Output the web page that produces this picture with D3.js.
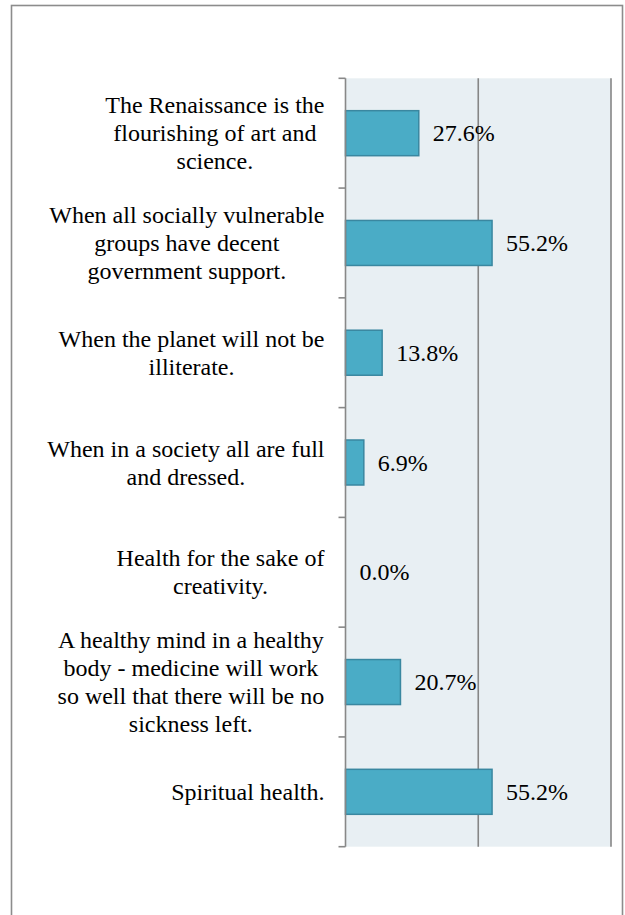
<!DOCTYPE html>
<html>
<head>
<meta charset="utf-8">
<script src="https://cdn.jsdelivr.net/npm/d3@7"></script>
</head>
<body style="margin:0">
<svg id="chart" width="625" height="915"></svg>
<script>
// answers, top to bottom (each entry is the lines of the label)
const categories = [
  ["The Renaissance is the", "flourishing of art and", "science."],
  ["When all socially vulnerable", "groups have decent", "government support."],
  ["When the planet will not be", "illiterate."],
  ["When in a society all are full", "and dressed."],
  ["Health for the sake of", "creativity."],
  ["A healthy mind in a healthy", "body - medicine will work", "so well that there will be no", "sickness left."],
  ["Spiritual health."]
];
const values = [27.6, 55.2, 13.8, 6.9, 0.0, 20.7, 55.2];
const gridTicks = [50, 100];

const FONT = "Liberation Serif";
const svg = d3.select("#chart");
const margin = { top: 78.3, left: 345.5, right: 611, bottom: 846.7 };
const keys = categories.map((c, i) => i);

const x = d3.scaleLinear().domain([0, 100]).range([margin.left, margin.right]);
const y = d3.scaleBand().domain(keys).range([margin.top, margin.bottom])
  .paddingInner(0.59).paddingOuter(0.295);
const yOuter = d3.scaleBand().domain(keys).range([margin.top, margin.bottom]);

// measure with a canvas
const ctx = document.createElement("canvas").getContext("2d");
ctx.font = "24px " + FONT;

function serif(sel) {
  return sel
    .style("font-family", FONT, "important")
    .style("font-size", "24px", "important")
    .style("fill", "#000", "important");
}

// outer frame
svg.append("rect")
  .attr("x", 11.5).attr("y", 5.5)
  .attr("width", 611).attr("height", 940)
  .attr("fill", "none").attr("stroke", "#8c8c8c").attr("stroke-width", 1.6);

// plot background
svg.append("rect")
  .attr("x", x(0)).attr("y", margin.top)
  .attr("width", x(100) - x(0)).attr("height", margin.bottom - margin.top)
  .attr("fill", "#e8eff3");

// gridlines
svg.selectAll("line.grid")
  .data(gridTicks)
  .enter().append("line")
  .attr("class", "grid")
  .attr("x1", d => x(d)).attr("x2", d => x(d))
  .attr("y1", margin.top).attr("y2", margin.bottom)
  .attr("stroke", "#868686").attr("stroke-width", 1.6);

// bars
svg.selectAll("rect.bar")
  .data(values)
  .enter().append("rect")
  .attr("class", "bar")
  .attr("x", x(0))
  .attr("y", (d, i) => y(i))
  .attr("width", d => x(d) - x(0))
  .attr("height", y.bandwidth())
  .attr("fill", "#4aacc6")
  .attr("stroke", d => d > 0 ? "#3a87a0" : "none")
  .attr("stroke-width", 1.5);

// value labels
svg.selectAll("text.value")
  .data(values)
  .enter().append("text")
  .attr("class", "value")
  .attr("x", d => x(d) + 14)
  .attr("y", (d, i) => y(i) + y.bandwidth() / 2 + 8)
  .call(serif)
  .text(d => d.toFixed(1) + "%");

// category axis: line plus bracket ticks at band edges
const axis = svg.append("g").attr("stroke", "#888").attr("stroke-width", 1.6);
axis.append("line")
  .attr("x1", x(0)).attr("x2", x(0))
  .attr("y1", margin.top).attr("y2", margin.bottom);
const edges = keys.map(k => yOuter(k)).concat([margin.bottom]);
axis.selectAll("line.tick")
  .data(edges)
  .enter().append("line")
  .attr("class", "tick")
  .attr("x1", x(0) - 7).attr("x2", x(0))
  .attr("y1", d => d).attr("y2", d => d);

// category labels: lines centered within a block that is right aligned to the axis
const lineH = 28;
const labelRight = x(0) - 21;
categories.forEach((lines, i) => {
  const cy = y(i) + y.bandwidth() / 2;
  const w = d3.max(lines, l => ctx.measureText(l).width);
  lines.forEach((line, j) => {
    svg.append("text")
      .attr("x", labelRight - w / 2)
      .attr("y", cy + (j - (lines.length - 1) / 2) * lineH + 8)
      .attr("text-anchor", "middle")
      .call(serif)
      .text(line);
  });
});
</script>
</body>
</html>
